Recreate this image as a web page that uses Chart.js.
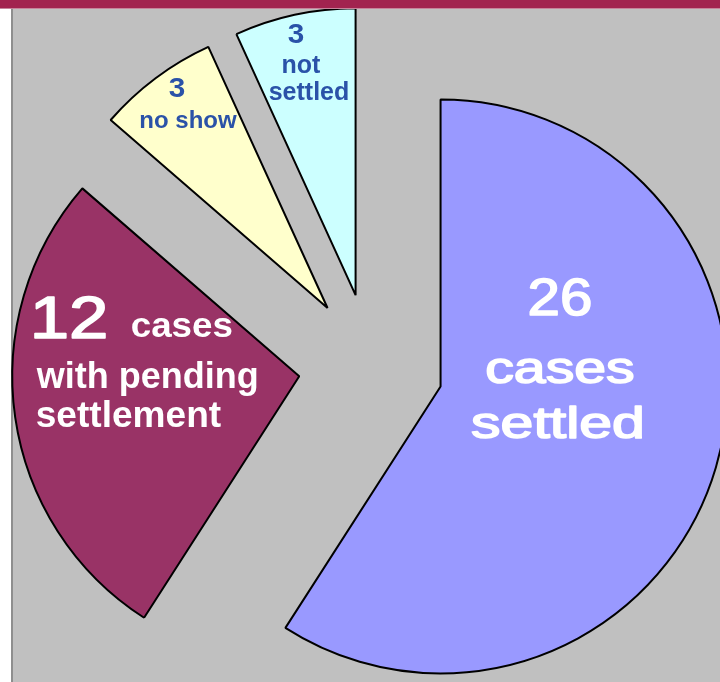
<!DOCTYPE html>
<html>
<head>
<meta charset="utf-8">
<script src="https://cdn.jsdelivr.net/npm/chart.js@4/dist/chart.umd.min.js"></script>
<style>
html,body{margin:0;padding:0;width:720px;height:682px;overflow:hidden;background:#ffffff;}
#plot{position:absolute;left:13px;top:9px;width:707px;height:673px;background:#c0c0c0;}
#frame{position:absolute;left:11px;top:0;width:2px;height:682px;background:#8e8e8e;}
#c{position:absolute;left:0;top:0;}
#bar{position:absolute;left:0;top:0;width:720px;height:8px;background:#a2234f;}
#barline{position:absolute;left:0;top:8px;width:720px;height:1px;background:#c6849b;}
</style>
</head>
<body>
<div id="plot"></div>
<div id="frame"></div>
<canvas id="c" width="742" height="732" style="width:742px;height:732px"></canvas>
<div id="bar"></div>
<div id="barline"></div>
<script>
// ---- data ----
const categories = ['cases settled', 'cases with pending settlement', 'no show', 'not settled'];
const caseCounts = [26, 12, 3, 3];
const captionLines = [
  ['cases', 'settled'],
  ['cases', 'with pending', 'settlement'],
  ['no show'],
  ['not', 'settled']
];
const sliceColors = ['#9999ff', '#993366', '#ffffcc', '#ccffff'];

// ---- style ----
const EXPLODE = 72.5;
const FONT = '"Liberation Sans", Arial, sans-serif';
const LABEL_STYLE = [
  { color: '#ffffff', pieces: [
    { size: 52, weight: 'normal', sx: 1.12, stroke: 1.6, align: 'center', dx: 119.4, dy: -71.4 },
    { size: 44, weight: 'normal', sx: 1.3, stroke: 1.6, align: 'center', dx: 119.4, dy: -3.4 },
    { size: 44, weight: 'normal', sx: 1.34, stroke: 1.6, align: 'center', dx: 117.4, dy: 51.6 }
  ]},
  { color: '#ffffff', pieces: [
    { size: 60, weight: 'normal', sx: 1.18, stroke: 1.6, align: 'left', dx: -269.5, dy: -38.3 },
    { size: 35, weight: 'bold', sx: 1.05, stroke: 0, align: 'left', dx: -168.5, dy: -39.3 },
    { size: 36, weight: 'bold', sx: 1.0, stroke: 0, align: 'left', dx: -262.5, dy: 11.7 },
    { size: 36, weight: 'bold', sx: 1.03, stroke: 0, align: 'left', dx: -263.5, dy: 50.7 }
  ]},
  { color: '#2a52a8', pieces: [
    { size: 27, weight: 'bold', sx: 1.1, stroke: 0, align: 'center', dx: -150.6, dy: -210.9 },
    { size: 24, weight: 'bold', sx: 1.0, stroke: 0, align: 'center', dx: -139.6, dy: -179.9 }
  ]},
  { color: '#2a52a8', pieces: [
    { size: 27, weight: 'bold', sx: 1.1, stroke: 0, align: 'center', dx: -59.6, dy: -252.2 },
    { size: 25, weight: 'bold', sx: 1.0, stroke: 0, align: 'center', dx: -54.6, dy: -222.2 },
    { size: 25, weight: 'bold', sx: 1.0, stroke: 0, align: 'center', dx: -46.6, dy: -195.2 }
  ]}
];

// shift every slice outwards along its bisector (uniform explode)
const explodePlugin = {
  id: 'explode',
  afterDatasetUpdate(chart, args) {
    args.meta.data.forEach(el => {
      const mid = (el.startAngle + el.endAngle) / 2;
      el.x += Math.cos(mid) * EXPLODE;
      el.y += Math.sin(mid) * EXPLODE;
    });
  }
};

const labelPlugin = {
  id: 'sliceLabels',
  afterDatasetsDraw(chart) {
    const ctx = chart.ctx;
    const meta = chart.getDatasetMeta(0);
    meta.data.forEach((el, i) => {
      const texts = [String(caseCounts[i])].concat(captionLines[i]);
      const st = LABEL_STYLE[i];
      texts.forEach((t, k) => {
        const p = st.pieces[k];
        ctx.save();
        ctx.translate(el.x + p.dx, el.y + p.dy);
        ctx.scale(p.sx, 1);
        ctx.font = p.weight + ' ' + p.size + 'px ' + FONT;
        ctx.fillStyle = st.color;
        ctx.textAlign = p.align;
        ctx.textBaseline = 'alphabetic';
        ctx.fillText(t, 0, 0);
        if (p.stroke) {
          ctx.strokeStyle = st.color;
          ctx.lineWidth = p.stroke;
          ctx.lineJoin = 'round';
          ctx.strokeText(t, 0, 0);
        }
        ctx.restore();
      });
    });
  }
};

new Chart(document.getElementById('c'), {
  type: 'pie',
  data: {
    labels: categories,
    datasets: [{
      data: caseCounts,
      backgroundColor: sliceColors,
      borderColor: '#000000',
      borderWidth: 2,
      offset: 0
    }]
  },
  options: {
    responsive: false,
    animation: false,
    radius: 287,
    events: [],
    layout: { padding: 0 },
    plugins: { legend: { display: false }, tooltip: { enabled: false }, title: { display: false } }
  },
  plugins: [explodePlugin, labelPlugin]
});
</script>
</body>
</html>
